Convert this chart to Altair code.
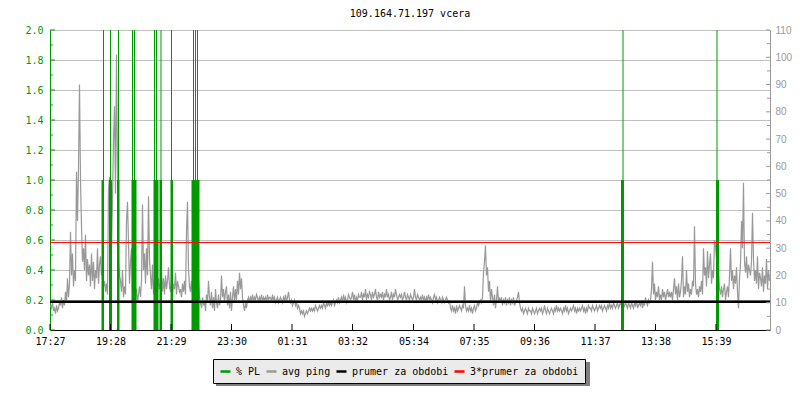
import json
import altair as alt
import pandas as pd

TITLE = "109.164.71.197 vcera"

# x axis: minutes since start (17:27), tick positions and labels
TICK_MINUTES = [0, 121, 242, 363, 484, 605, 727, 848, 969, 1090, 1211, 1332]
TICK_LABELS = ["17:27", "19:28", "21:29", "23:30", "01:31", "03:32",
               "05:34", "07:35", "09:36", "11:37", "13:38", "15:39"]

# avg ping (ms), one sample every 2 minutes
PING_MS = [
    9, 8, 10, 7, 8, 6, 9, 7, 8, 10,
    9, 12, 8, 11, 9, 14, 10, 19, 12, 17,
    36, 20, 28, 16, 22, 18, 58, 40, 60, 90,
    55, 38, 25, 30, 22, 35, 18, 26, 20, 24,
    16, 28, 18, 25, 15, 22, 19, 30, 17, 24,
    27, 20, 22, 16, 18, 14, 17, 13, 52, 56,
    40, 30, 48, 70, 82, 50, 101, 60, 25, 20,
    18, 14, 22, 12, 16, 13, 40, 47, 32, 17,
    25, 30, 14, 32, 20, 12, 15, 10, 13, 16,
    12, 18, 46, 22, 28, 17, 30, 20, 49, 26,
    20, 15, 24, 13, 18, 16, 21, 14, 19, 15,
    17, 22, 14, 19, 13, 20, 15, 18, 23, 16,
    14, 19, 12, 17, 15, 21, 13, 18, 16, 14,
    15, 12, 17, 14, 18, 13, 36, 47, 22, 16,
    14, 18, 13, 16, 20, 24, 32, 28, 18, 12,
    10, 8, 12, 9, 11, 7, 13, 10, 18, 12,
    9, 14, 8, 12, 7, 15, 10, 8, 13, 9,
    11, 20, 12, 15, 10, 14, 16, 9, 13, 8,
    14, 7, 12, 16, 10, 15, 11, 18, 13, 21,
    15, 19, 12, 9, 7, 10, 8, 11, 12, 10,
    12, 11, 13, 10, 12, 11, 13, 12, 10, 12,
    11, 13, 10, 12, 11, 12, 10, 13, 11, 12,
    12, 10, 13, 11, 12, 10, 11, 12, 10, 11,
    12, 11, 10, 12, 11, 13, 10, 12, 14, 11,
    10, 11, 9, 10, 11, 9, 10, 8, 9, 8,
    6, 7, 6, 7, 5, 6, 7, 6, 7, 8,
    7, 8, 7, 8, 7, 9, 8, 7, 8, 9,
    8, 9, 8, 10, 9, 8, 10, 9, 10, 9,
    10, 9, 10, 11, 9, 10, 11, 10, 12, 10,
    11, 12, 10, 13, 11, 12, 10, 11, 13, 12,
    11, 12, 14, 11, 13, 10, 12, 11, 13, 12,
    12, 14, 11, 13, 12, 15, 11, 13, 12, 14,
    13, 11, 14, 12, 13, 15, 12, 11, 14, 12,
    13, 12, 14, 11, 13, 12, 15, 12, 13, 11,
    12, 14, 11, 13, 12, 15, 13, 11, 12, 13,
    12, 13, 11, 12, 14, 12, 11, 13, 12, 11,
    13, 12, 11, 12, 15, 12, 11, 13, 12, 11,
    12, 11, 13, 11, 12, 10, 12, 11, 13, 11,
    12, 11, 10, 12, 13, 11, 12, 10, 11, 12,
    11, 10, 12, 11, 10, 11, 12, 11, 10, 11,
    8, 7, 9, 7, 8, 6, 9, 7, 8, 9,
    8, 7, 9, 8, 16, 9, 7, 8, 7, 9,
    7, 8, 6, 8, 9, 7, 8, 10, 9, 10,
    11, 10, 12, 21, 25, 31, 20, 23, 14, 18,
    10, 15, 12, 9, 13, 8, 11, 16, 10, 12,
    10, 12, 9, 11, 10, 12, 9, 11, 10, 12,
    9, 11, 10, 12, 9, 10, 11, 12, 14, 10,
    8, 7, 8, 6, 7, 8, 7, 6, 8, 7,
    7, 6, 8, 7, 6, 7, 8, 6, 7, 8,
    7, 8, 6, 7, 9, 7, 6, 8, 7, 6,
    7, 8, 7, 6, 8, 7, 9, 7, 8, 7,
    8, 7, 6, 8, 7, 9, 7, 8, 6, 7,
    8, 7, 8, 9, 7, 8, 6, 8, 7, 8,
    7, 8, 9, 7, 8, 6, 8, 7, 9, 8,
    8, 7, 9, 8, 7, 8, 9, 7, 8, 9,
    8, 9, 7, 8, 9, 8, 7, 9, 8, 10,
    8, 9, 8, 10, 9, 8, 9, 10, 8, 9,
    10, 9, 11, 8, 9, 10, 9, 8, 10, 9,
    8, 10, 9, 8, 10, 9, 11, 8, 9, 10,
    9, 11, 8, 10, 9, 12, 10, 9, 11, 10,
    11, 15, 25, 13, 17, 11, 14, 12, 16, 11,
    13, 11, 15, 12, 14, 11, 13, 15, 12, 14,
    12, 14, 11, 15, 19, 13, 16, 11, 17, 12,
    14, 18, 27, 12, 16, 13, 22, 14, 17, 12,
    15, 13, 18, 16, 38, 17, 13, 15, 12, 16,
    14, 18, 13, 30, 20, 23, 16, 29, 19, 24,
    28, 17, 22, 19, 33, 31, 26, 21, 24, 15,
    13, 16, 12, 15, 17, 11, 14, 16, 12, 20,
    30, 18, 22, 15, 20, 17, 23, 14, 8, 19,
    24, 40, 30, 54, 25, 21, 27, 19, 24, 22,
    20, 25, 43, 26, 18, 22, 17, 27, 15, 21,
    19, 16, 23, 14, 20, 17, 26, 15, 22, 18,
]

# packet loss samples (minute, % PL)
PL_MINUTES = [104, 105, 106, 107,
              119, 120, 121, 122, 123,
              135, 136, 137, 138,
              164, 165, 166, 167, 168, 169, 170, 171, 172,
              208, 209, 210, 211, 212, 213, 214, 215, 216,
              220, 221, 222, 223,
              242, 243, 244, 245,
              284, 285, 286, 287, 288, 289, 290, 291, 292, 293, 294, 295, 296, 297, 298,
              1143, 1144, 1145, 1146, 1147,
              1333, 1334, 1335, 1336, 1337]
PL_VALUES = [1, 1, 1, 3,
             1, 1, 3, 1, 1,
             1, 1, 3, 1,
             1, 3, 1, 1, 1, 3, 1, 1, 1,
             1, 3, 1, 1, 1, 3, 1, 1, 1,
             1, 1, 3, 1,
             1, 3, 1, 1,
             1, 1, 1, 3, 1, 1, 1, 3, 1, 1, 1, 3, 1, 1, 1,
             1, 1, 1, 3, 1,
             1, 3, 1, 1, 1]

AVG_MS = 10.4
AVG3_MS = 32.1

LEFT_MAJOR = [0.0, 0.2, 0.4, 0.6, 0.8, 1.0, 1.2, 1.4, 1.6, 1.8, 2.0]
LEFT_MINOR = [0.1, 0.3, 0.5, 0.7, 0.9, 1.1, 1.3, 1.5, 1.7, 1.9]
RIGHT_MAJOR = [0, 10, 20, 30, 40, 50, 60, 70, 80, 90, 100, 110]
RIGHT_MINOR = [5, 15, 25, 35, 45, 55, 65, 75, 85, 95, 105]

SERIES = ["% PL", "avg ping", "prumer za obdobi", "3*prumer za obdobi"]
COLORS = ["#009900", "#999999", "#000000", "#ff0000"]

W, H = 720, 300
MONO = "DejaVu Sans Mono"

x_scale = alt.Scale(domain=[0, 1440], nice=False, zero=False)
pl_scale = alt.Scale(domain=[0, 2], nice=False, zero=True, clamp=True)
ping_scale = alt.Scale(domain=[0, 110], nice=False, zero=True)
color_scale = alt.Scale(domain=SERIES, range=COLORS)

legend = alt.Legend(title=None, orient="none", legendX=163, legendY=329,
                    direction="horizontal")


def color_enc():
    return alt.Color("series:N", scale=color_scale, legend=legend, sort=SERIES)


label_expr = f"{json.dumps(TICK_LABELS)}[indexof({json.dumps(TICK_MINUTES)}, datum.value)]"
x_axis = alt.Axis(values=TICK_MINUTES, labelExpr=label_expr, ticks=False, tickSize=0,
                  grid=False, domainColor="black", labelColor="black", labelFont=MONO,
                  labelFontSize=10, labelPadding=6, title=None, labelFlush=False)

ping_df = pd.DataFrame({"minute": [2 * i + 1 for i in range(len(PING_MS))], "ms": PING_MS,
                        "series": SERIES[1]})
pl_df = pd.DataFrame({"minute": PL_MINUTES, "pl": PL_VALUES, "base": 0, "series": SERIES[0]})
avg_df = pd.DataFrame({"ms": [AVG_MS], "series": [SERIES[2]]})
avg3_df = pd.DataFrame({"ms": [AVG3_MS], "series": [SERIES[3]]})

ping = alt.Chart(ping_df).mark_line(strokeWidth=1.2).encode(
    x=alt.X("minute:Q", scale=x_scale, axis=x_axis),
    y=alt.Y("ms:Q", scale=ping_scale,
            axis=alt.Axis(orient="right", values=RIGHT_MAJOR, ticks=False, tickSize=0,
                          grid=False, domainColor="#999999", labelColor="#999999",
                          labelFont="Liberation Sans", labelFontSize=10, labelPadding=5,
                          title=None)),
    color=color_enc(),
)

pl = alt.Chart(pl_df).mark_rule(strokeWidth=1).encode(
    x=alt.X("minute:Q", scale=x_scale, axis=x_axis),
    y=alt.Y("pl:Q", scale=pl_scale,
            axis=alt.Axis(orient="left", values=LEFT_MAJOR, format=".1f", ticks=False,
                          tickSize=0, grid=True, gridColor="#c0c0c0", gridWidth=1,
                          domainColor="#009900", labelColor="#009900", labelFont=MONO,
                          labelFontSize=10, labelPadding=7, title=None)),
    y2="base:Q",
    color=color_enc(),
)

avg = alt.Chart(avg_df).mark_rule(strokeWidth=2.5).encode(
    y=alt.Y("ms:Q", scale=ping_scale, axis=None),
    color=color_enc(),
)

avg3 = alt.Chart(avg3_df).mark_rule(strokeWidth=1).encode(
    y=alt.Y("ms:Q", scale=ping_scale, axis=None),
    color=color_enc(),
)

# inward tick marks
lmaj = alt.Chart(pd.DataFrame({"v": LEFT_MAJOR})).mark_rule(color="#009900").encode(
    y=alt.Y("v:Q", scale=pl_scale, axis=None), x=alt.value(0), x2=alt.value(5))
lmin = alt.Chart(pd.DataFrame({"v": LEFT_MINOR})).mark_rule(color="#009900").encode(
    y=alt.Y("v:Q", scale=pl_scale, axis=None), x=alt.value(0), x2=alt.value(3))
rmaj = alt.Chart(pd.DataFrame({"v": RIGHT_MAJOR})).mark_rule(color="#999999").encode(
    y=alt.Y("v:Q", scale=ping_scale, axis=None), x=alt.value(W - 4), x2=alt.value(W))
rmin = alt.Chart(pd.DataFrame({"v": RIGHT_MINOR})).mark_rule(color="#999999").encode(
    y=alt.Y("v:Q", scale=ping_scale, axis=None), x=alt.value(W - 3), x2=alt.value(W))
bmaj = alt.Chart(pd.DataFrame({"m": TICK_MINUTES})).mark_rule(color="black").encode(
    x=alt.X("m:Q", scale=x_scale, axis=x_axis), y=alt.value(H - 6), y2=alt.value(H))

# legend drop shadow
shadow = alt.Chart(pd.DataFrame({"a": [0]})).mark_rect(color="#7f7f7f").encode(
    x=alt.value(166), x2=alt.value(540), y=alt.value(332), y2=alt.value(356))

chart = alt.layer(ping, pl, avg, avg3, lmaj, lmin, rmaj, rmin, bmaj, shadow).resolve_scale(
    y="independent"
).properties(
    width=W, height=H,
    autosize=alt.AutoSizeParams(type="none"),
    padding={"left": 42, "top": 22, "right": 22, "bottom": 62},
    title=alt.TitleParams(TITLE, font=MONO, fontSize=10, fontWeight="normal",
                          color="black", anchor="middle", offset=6),
).configure_view(stroke=None).configure_legend(
    fillColor="#ebebeb", strokeColor="black", padding=6, cornerRadius=0,
    labelFont=MONO, labelFontSize=10, labelColor="black", labelOffset=4,
    symbolType="stroke", symbolStrokeWidth=2.5, symbolSize=100, columnPadding=0,
    gridAlign="none", labelLimit=300,
)

chart.save("out.html", embed_options={"renderer": "svg", "actions": False})
